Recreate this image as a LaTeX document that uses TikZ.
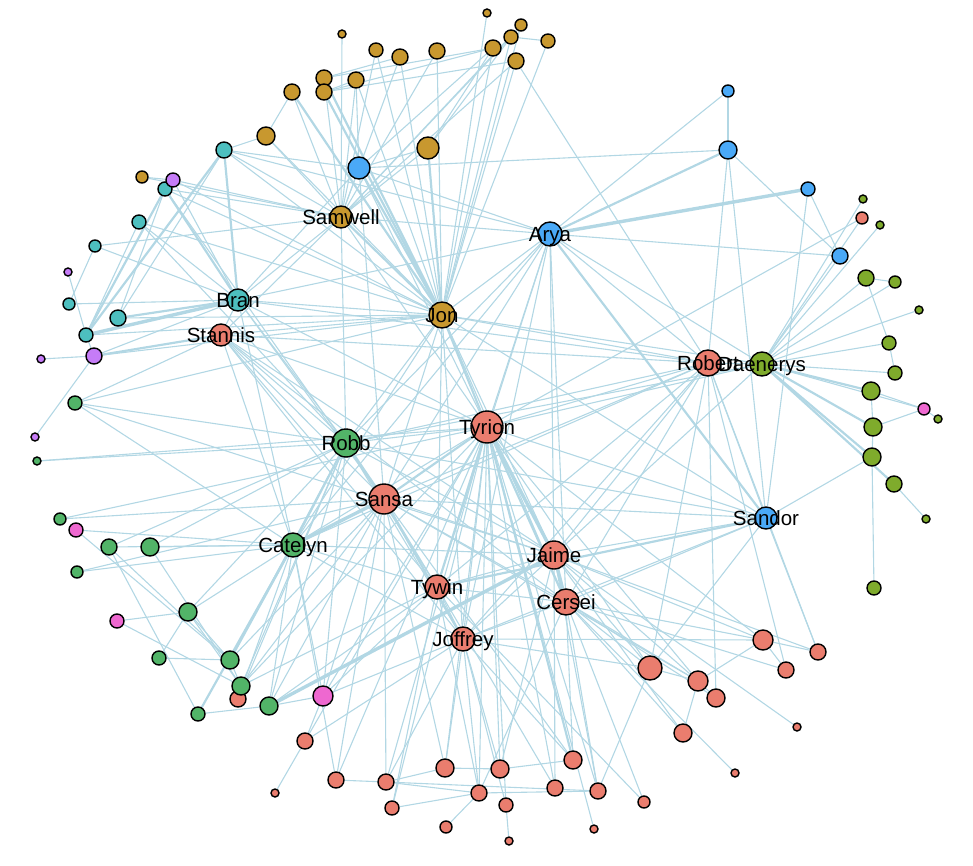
\documentclass[tikz,border=0pt]{standalone}
\usepackage{fontspec}
\setmainfont{Liberation Sans}
\usetikzlibrary{backgrounds}
\definecolor{cRed}{HTML}{EA7D6E}
\definecolor{cGold}{HTML}{C8982F}
\definecolor{cOlive}{HTML}{7FAB2C}
\definecolor{cGreen}{HTML}{52B468}
\definecolor{cTeal}{HTML}{4DBFBF}
\definecolor{cBlue}{HTML}{4AA9F7}
\definecolor{cPurple}{HTML}{C57CF7}
\definecolor{cPink}{HTML}{EE68D0}
\definecolor{cEdge}{RGB}{178,215,228}
\tikzset{
  vtx/.style={circle, draw=black, line width=1.4pt, inner sep=0pt},
  ed/.style={draw=cEdge, line width=1.1pt},
  edm/.style={draw=cEdge, line width=2.2pt},
  edt/.style={draw=cEdge, line width=3.4pt},
  lbl/.style={inner sep=0pt, anchor=base, font=\fontsize{20.5}{24}\selectfont, text=black}
}
\newcommand{\Vx}[5]{\node[vtx, fill=#5, minimum size=#4pt] (#1) at (#2,#3) {};}
\newcommand{\Lb}[2]{\node[lbl] (#1-l) at ([yshift=-7.3pt]#1.center) {#2};}
\begin{document}
\begin{tikzpicture}[x=1pt,y=-1pt]
\useasboundingbox (0,0) rectangle (973,866);
% gold
\Vx{g1}{292}{92}{16}{cGold}
\Vx{g2}{324}{78}{16}{cGold}
\Vx{g3}{324}{92}{16}{cGold}
\Vx{g4}{266}{136}{18}{cGold}
\Vx{g5}{142}{177}{12}{cGold}
\Vx{g6}{342}{34}{8}{cGold}
\Vx{g7}{376}{50}{14}{cGold}
\Vx{g8}{400}{57}{16}{cGold}
\Vx{g9}{437}{51}{16}{cGold}
\Vx{g10}{356}{80}{16}{cGold}
\Vx{g11}{487}{13}{8}{cGold}
\Vx{g12}{521}{25}{12}{cGold}
\Vx{g13}{511}{37}{14}{cGold}
\Vx{g14}{493}{48}{16}{cGold}
\Vx{g15}{548}{41}{14}{cGold}
\Vx{g16}{516}{61}{16}{cGold}
\Vx{g17}{428}{148}{22}{cGold}
\Vx{samwell}{341}{217}{22}{cGold}
\Vx{jon}{442}{315}{26}{cGold}
% teal
\Vx{t1}{224}{150}{16}{cTeal}
\Vx{t2}{165}{189}{14}{cTeal}
\Vx{t3}{139}{222}{14}{cTeal}
\Vx{t4}{95}{246}{12}{cTeal}
\Vx{t5}{69}{304}{12}{cTeal}
\Vx{t6}{118}{318}{16}{cTeal}
\Vx{t7}{86}{335}{14}{cTeal}
\Vx{bran}{238}{300}{22}{cTeal}
% purple
\Vx{p1}{173}{180}{14}{cPurple}
\Vx{p2}{68}{272}{8}{cPurple}
\Vx{p3}{94}{356}{16}{cPurple}
\Vx{p4}{41}{359}{8}{cPurple}
\Vx{p5}{35}{437}{8}{cPurple}
% blue
\Vx{b1}{359}{168}{22}{cBlue}
\Vx{b2}{728}{91}{12}{cBlue}
\Vx{b3}{728}{150}{18}{cBlue}
\Vx{b4}{808}{189}{14}{cBlue}
\Vx{b5}{840}{256}{16}{cBlue}
\Vx{arya}{550}{234}{24}{cBlue}
\Vx{sandor}{766}{518}{22}{cBlue}
% green
\Vx{e1}{75}{403}{14}{cGreen}
\Vx{e2}{37}{461}{8}{cGreen}
\Vx{e3}{60}{519}{12}{cGreen}
\Vx{e4}{109}{547}{16}{cGreen}
\Vx{e5}{150}{547}{18}{cGreen}
\Vx{e6}{77}{572}{12}{cGreen}
\Vx{e7}{188}{612}{18}{cGreen}
\Vx{e8}{159}{658}{14}{cGreen}
\Vx{e9}{230}{660}{18}{cGreen}
\Vx{r27}{238}{699}{16}{cRed}
\Vx{e10}{241}{686}{18}{cGreen}
\Vx{e11}{198}{714}{14}{cGreen}
\Vx{e12}{269}{706}{18}{cGreen}
\Vx{robb}{346}{443}{28}{cGreen}
\Vx{catelyn}{293}{545}{24}{cGreen}
% pink
\Vx{k1}{76}{530}{14}{cPink}
\Vx{k2}{117}{621}{14}{cPink}
\Vx{k3}{323}{696}{20}{cPink}
\Vx{k4}{924}{409}{12}{cPink}
% olive
\Vx{o1}{863}{199}{8}{cOlive}
\Vx{o2}{880}{225}{8}{cOlive}
\Vx{o3}{866}{278}{16}{cOlive}
\Vx{o4}{895}{282}{12}{cOlive}
\Vx{o5}{919}{310}{8}{cOlive}
\Vx{o6}{889}{343}{14}{cOlive}
\Vx{o7}{895}{373}{14}{cOlive}
\Vx{o8}{871}{391}{18}{cOlive}
\Vx{o9}{938}{419}{8}{cOlive}
\Vx{o10}{873}{427}{18}{cOlive}
\Vx{o11}{872}{457}{18}{cOlive}
\Vx{o12}{894}{484}{16}{cOlive}
\Vx{o13}{926}{519}{8}{cOlive}
\Vx{o14}{874}{588}{14}{cOlive}
% red
\Vx{r1}{862}{218}{12}{cRed}
\Vx{stannis}{221}{335}{22}{cRed}
\Vx{robert}{708}{363}{26}{cRed}
\Vx{daenerys}{762}{364}{24}{cOlive}
\Vx{tyrion}{487}{427}{32}{cRed}
\Vx{sansa}{384}{499}{30}{cRed}
\Vx{jaime}{554}{555}{28}{cRed}
\Vx{tywin}{437}{587}{24}{cRed}
\Vx{cersei}{566}{602}{26}{cRed}
\Vx{joffrey}{463}{639}{24}{cRed}
\Vx{r2}{650}{668}{24}{cRed}
\Vx{r3}{763}{640}{20}{cRed}
\Vx{r4}{818}{652}{16}{cRed}
\Vx{r5}{786}{670}{16}{cRed}
\Vx{r6}{698}{681}{20}{cRed}
\Vx{r7}{716}{698}{18}{cRed}
\Vx{r8}{683}{733}{18}{cRed}
\Vx{r9}{797}{727}{8}{cRed}
\Vx{r10}{735}{773}{8}{cRed}
\Vx{r11}{644}{802}{12}{cRed}
\Vx{r12}{598}{791}{16}{cRed}
\Vx{r13}{594}{829}{8}{cRed}
\Vx{r14}{573}{760}{18}{cRed}
\Vx{r15}{555}{788}{16}{cRed}
\Vx{r16}{509}{841}{8}{cRed}
\Vx{r17}{506}{805}{14}{cRed}
\Vx{r18}{500}{769}{18}{cRed}
\Vx{r19}{479}{793}{16}{cRed}
\Vx{r20}{446}{827}{12}{cRed}
\Vx{r21}{445}{768}{18}{cRed}
\Vx{r22}{392}{808}{14}{cRed}
\Vx{r23}{386}{782}{16}{cRed}
\Vx{r24}{336}{780}{16}{cRed}
\Vx{r25}{305}{741}{16}{cRed}
\Vx{r26}{275}{793}{8}{cRed}
% labels
\Lb{samwell}{Samwell}
\Lb{arya}{Arya}
\Lb{bran}{Bran}
\Lb{stannis}{Stannis}
\Lb{jon}{Jon}
\Lb{robert}{Robert}
\Lb{daenerys}{Daenerys}
\Lb{tyrion}{Tyrion}
\Lb{robb}{Robb}
\Lb{sansa}{Sansa}
\Lb{sandor}{Sandor}
\Lb{catelyn}{Catelyn}
\Lb{jaime}{Jaime}
\Lb{tywin}{Tywin}
\Lb{cersei}{Cersei}
\Lb{joffrey}{Joffrey}
\begin{pgfonlayer}{background}
\foreach \a/\b in {g6/samwell, g7/jon, g7/samwell, g8/jon, g8/samwell, g8/g2, g9/jon, g9/samwell, g10/jon, g10/samwell, g10/g3, g10/b1, g1/samwell, g2/samwell, g2/g14, g3/g14, g3/g16, g4/samwell, g4/jon, g4/t1, g4/g1, g5/p1, g5/samwell, g11/jon, g12/jon, g12/samwell, g13/jon, g13/samwell, g14/jon, g14/b1, g15/jon, g15/g13, g16/jon, g16/robert, g16/samwell, g17/g14, g17/g13, g17/samwell, g17/b1,
samwell/b1, samwell/bran, samwell/t1, samwell/stannis, samwell/tyrion, samwell/p1, samwell/t2, samwell/arya, samwell/robb,
b1/arya, b1/b3, b1/bran, b1/tyrion, b1/sansa, b1/t1,
jon/arya, jon/bran, jon/robb, jon/sansa, jon/catelyn, jon/stannis, jon/robert, jon/t6, jon/t7, jon/p1, jon/t2, jon/daenerys, jon/tywin, jon/cersei, jon/jaime, jon/joffrey, jon/sandor, jon/e1, jon/p3,
bran/t5, bran/t3, bran/robb, bran/catelyn, bran/arya, bran/tyrion, bran/sansa, bran/t4, bran/stannis, bran/robert,
t7/t3, t6/t2, t6/t1, t5/t4, p2/t7, t4/samwell, t3/robb, t3/jon, t2/sansa, p1/bran, p1/t2, t1/jon, t1/arya,
p3/p4, p3/t7, p5/p3, p3/bran,
e1/robb, e1/stannis, e1/catelyn, e1/jaime, e2/robb, e2/tyrion, e3/sansa, e3/tyrion, k1/catelyn, k1/e9, e4/catelyn, e4/e9, e4/robb, e4/e11, e5/catelyn, e5/robb, e5/e10, e6/catelyn, e6/sansa, e7/k2, e7/e8, e7/robb, e7/e9, e7/catelyn, e7/e10, k2/e10, e8/e9, e9/robb, e9/sansa, e9/e10, e10/robb, e10/sansa, e10/tyrion, e10/tywin, e11/e12, e12/catelyn, e12/robb, e12/sansa, e12/tywin, e12/k3, r27/robb, r27/catelyn, r27/e10,
k3/tywin, k3/joffrey, k3/tyrion, k3/sansa, k3/catelyn, k3/robb, r25/k3, r25/joffrey, r25/r26, r25/tyrion, r24/tyrion, r24/sansa, r24/r23, r24/catelyn, r23/tyrion, r23/sansa, r23/joffrey, r23/r21, r23/r19, r23/r12, r22/tyrion, r22/tywin, r22/r19, r21/joffrey, r21/tyrion, r21/sansa, r21/r18, r20/r19, r19/joffrey, r19/tywin, r19/tyrion, r19/cersei, r19/r12, r18/tyrion, r18/joffrey, r18/jaime, r18/r14, r17/joffrey, r17/tyrion, r16/r17, r15/tyrion, r15/jaime, r15/tywin, r14/joffrey, r14/cersei, r14/sansa, r13/tyrion, r12/cersei, r12/tyrion, r12/jaime, r12/r2, r11/cersei, r11/tywin,
r2/tyrion, r2/jaime, r2/cersei, r2/joffrey, r2/robert, r2/sandor, r2/r6, r6/cersei, r6/jaime, r6/tyrion, r6/r3, r6/sansa, r7/r6, r7/cersei, r7/robert, r8/r6, r8/jaime, r8/cersei, r3/cersei, r3/jaime, r3/tyrion, r3/r5, r3/joffrey, r3/r4, r4/jaime, r4/sandor, r4/robert, r5/cersei, r5/robert, r9/jaime, r10/cersei,
robert/daenerys, robert/arya, robert/tyrion, robert/jaime, robert/cersei, robert/joffrey, robert/sansa, robert/stannis, robert/sandor, robert/b3, robert/tywin, robert/catelyn, robert/robb,
daenerys/o3, daenerys/o4, daenerys/o6, daenerys/o7, daenerys/k4, daenerys/o1, daenerys/o2, daenerys/o5, daenerys/tyrion, daenerys/jaime, daenerys/b5, daenerys/arya, daenerys/robb,
o6/o7, o8/o10, o10/o11, o11/o14, o12/o13, o3/o6, o8/k4, o10/k4, o3/o4, o9/k4,
r1/tyrion, r1/daenerys, b5/b3, b5/b4, b5/arya, b4/sandor, b3/sandor, b2/b3, b2/arya,
arya/tyrion, arya/jaime, arya/cersei, arya/joffrey, arya/sansa, arya/robb, arya/catelyn, arya/tywin,
sandor/joffrey, sandor/sansa, sandor/tyrion, sandor/jaime, sandor/cersei, sandor/robb, sandor/o11,
stannis/sansa, stannis/tyrion, stannis/joffrey, stannis/cersei, stannis/catelyn, stannis/robb, stannis/tywin, stannis/jaime,
tyrion/robb, tyrion/catelyn, tyrion/joffrey, sansa/tywin, sansa/cersei, sansa/jaime, robb/tywin, robb/jaime, robb/joffrey, catelyn/jaime, catelyn/tywin, catelyn/joffrey, cersei/joffrey, cersei/tywin, tywin/joffrey, jaime/joffrey, jaime/tywin}
  \draw[ed] (\a) -- (\b);
\foreach \a/\b in {g1/jon, g3/jon, g2/jon, b1/jon, g17/jon, samwell/jon, bran/t1, bran/t2, bran/t6, t7/t1, t7/t2, p3/stannis, b3/arya, arya/sandor, tyrion/sansa, tyrion/tywin, tyrion/cersei, sansa/joffrey, sansa/robb, catelyn/robb, catelyn/e9, catelyn/e11, daenerys/o8, daenerys/o10, daenerys/o11, daenerys/o12, tyrion/r14, tyrion/jon, sandor/tywin}
  \draw[edm] (\a) -- (\b);
\foreach \a/\b in {bran/t7, b4/arya, e12/jaime, tyrion/jaime, jaime/cersei, catelyn/sansa}
  \draw[edt] (\a) -- (\b);
\end{pgfonlayer}
\end{tikzpicture}
\end{document}
